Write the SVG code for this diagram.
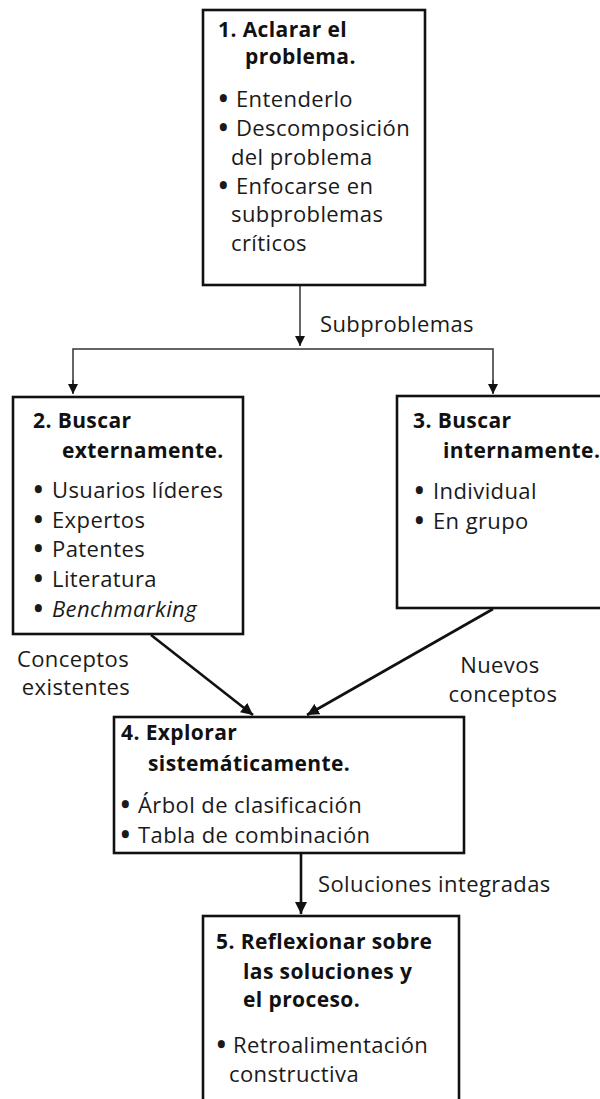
<svg xmlns="http://www.w3.org/2000/svg" width="600" height="1099" viewBox="0 0 600 1099">
<style>
.box{fill:#fff;stroke:#111;stroke-width:2.6}
.t{font-family:"Open Sans","Noto Sans","Liberation Sans",sans-serif;font-weight:700;font-size:21px;letter-spacing:0.4px;fill:#111}
.b{font-family:"Open Sans","Noto Sans","Liberation Sans",sans-serif;font-size:22px;letter-spacing:0.4px;fill:#1a1a1a}
.d{font-weight:800;letter-spacing:0}
.lbl{font-family:"Open Sans","Noto Sans","Liberation Sans",sans-serif;font-size:22px;letter-spacing:0.4px;fill:#1a1a1a}
.thin{fill:none;stroke:#333;stroke-width:1.5}
.thick{fill:none;stroke:#111;stroke-width:2.6}
</style>
<defs>
<marker id="ah" viewBox="0 0 10 10" refX="10" refY="5" markerWidth="10" markerHeight="10" markerUnits="userSpaceOnUse" orient="auto">
<path d="M0,0 L10,5 L0,10 z" fill="#111"/>
</marker>
<marker id="ahb" viewBox="0 0 10 10" refX="10" refY="5" markerWidth="12" markerHeight="12" markerUnits="userSpaceOnUse" orient="auto">
<path d="M0,0 L10,5 L0,10 z" fill="#111"/>
</marker>
</defs>
<rect width="600" height="1099" fill="#fff"/>
<g id="connectors">
<line class="thin" x1="300" y1="285" x2="300" y2="346" marker-end="url(#ah)"/>
<polyline class="thin" points="73,393 73,349 493,349 493,393" fill="none"/>
<line class="thin" x1="73" y1="380" x2="73" y2="394" marker-end="url(#ah)"/>
<line class="thin" x1="493" y1="380" x2="493" y2="394" marker-end="url(#ah)"/>
<line class="thick" x1="151" y1="635" x2="253" y2="715" marker-end="url(#ahb)"/>
<line class="thick" x1="493" y1="609" x2="307" y2="715" marker-end="url(#ahb)"/>
<line class="thick" x1="301" y1="853" x2="301" y2="914" marker-end="url(#ahb)"/>
<text class="lbl" x="320" y="332">Subproblemas</text>
<text class="lbl" x="73" y="667" text-anchor="middle">Conceptos</text>
<text class="lbl" x="76" y="695" text-anchor="middle">existentes</text>
<text class="lbl" x="500" y="673" text-anchor="middle">Nuevos</text>
<text class="lbl" x="503" y="702" text-anchor="middle">conceptos</text>
<text class="lbl" x="318" y="892">Soluciones integradas</text>
</g>
<g id="node1">
<rect class="box" x="203" y="10" width="222" height="275"/>
<text class="t" x="218" y="37">1. Aclarar el</text>
<text class="t" x="245" y="64">problema.</text>
<text class="b" y="107"><tspan class="d" x="219">•</tspan><tspan x="236">Entenderlo</tspan></text>
<text class="b" y="136"><tspan class="d" x="219">•</tspan><tspan x="236">Descomposición</tspan></text>
<text class="b" x="231" y="165">del problema</text>
<text class="b" y="194"><tspan class="d" x="219">•</tspan><tspan x="236">Enfocarse en</tspan></text>
<text class="b" x="231" y="222">subproblemas</text>
<text class="b" x="231" y="251">críticos</text>
</g>
<g id="node2">
<rect class="box" x="13" y="397" width="230" height="237"/>
<text class="t" x="33" y="428">2. Buscar</text>
<text class="t" x="62" y="458">externamente.</text>
<text class="b" y="498"><tspan class="d" x="34">•</tspan><tspan x="52">Usuarios líderes</tspan></text>
<text class="b" y="528"><tspan class="d" x="34">•</tspan><tspan x="52">Expertos</tspan></text>
<text class="b" y="557"><tspan class="d" x="34">•</tspan><tspan x="52">Patentes</tspan></text>
<text class="b" y="587"><tspan class="d" x="34">•</tspan><tspan x="52">Literatura</tspan></text>
<text class="b" y="617"><tspan class="d" x="34">•</tspan><tspan x="52" font-style="italic">Benchmarking</tspan></text>
</g>
<g id="node3">
<rect class="box" x="397" y="396" width="220" height="212"/>
<text class="t" x="413" y="428">3. Buscar</text>
<text class="t" x="443" y="458">internamente.</text>
<text class="b" y="499"><tspan class="d" x="415">•</tspan><tspan x="433">Individual</tspan></text>
<text class="b" y="529"><tspan class="d" x="415">•</tspan><tspan x="433">En grupo</tspan></text>
</g>
<g id="node4">
<rect class="box" x="114" y="717" width="350" height="136"/>
<text class="t" x="121" y="740">4. Explorar</text>
<text class="t" x="148" y="771">sistemáticamente.</text>
<text class="b" y="813"><tspan class="d" x="121">•</tspan><tspan x="138">Árbol de clasificación</tspan></text>
<text class="b" y="843"><tspan class="d" x="121">•</tspan><tspan x="138">Tabla de combinación</tspan></text>
</g>
<g id="node5">
<rect class="box" x="203" y="916" width="256" height="200"/>
<text class="t" x="216" y="949">5. Reflexionar sobre</text>
<text class="t" x="243" y="979">las soluciones y</text>
<text class="t" x="243" y="1007">el proceso.</text>
<text class="b" y="1053"><tspan class="d" x="217">•</tspan><tspan x="233">Retroalimentación</tspan></text>
<text class="b" x="229" y="1082">constructiva</text>
</g>
</svg>
